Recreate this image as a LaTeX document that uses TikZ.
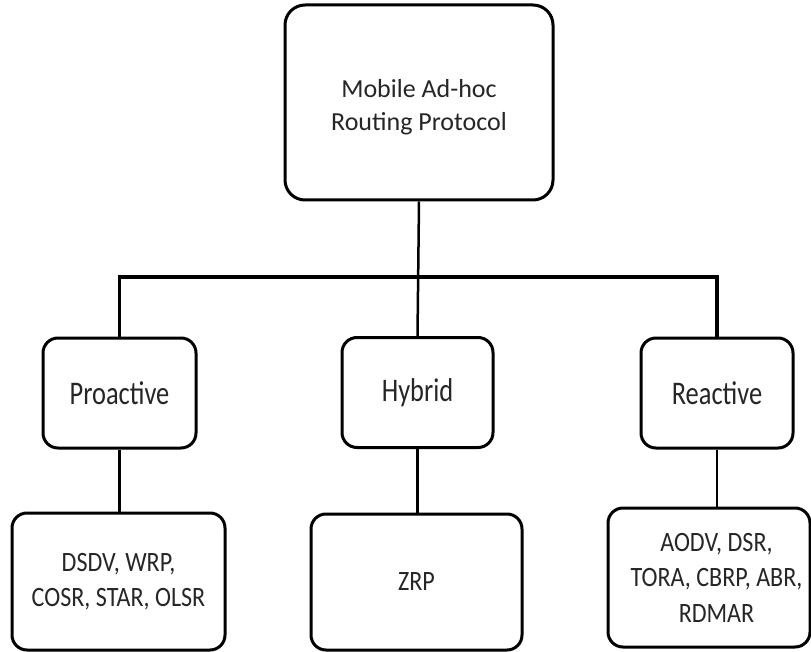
\documentclass[tikz,border=0pt]{standalone}
\usepackage{fontspec}
\usepackage{graphicx}
\setmainfont{Carlito}
\newcommand{\sqzb}[1]{\scalebox{0.86}[1]{#1}}
\newcommand{\sqzm}[1]{\scalebox{0.8}[1]{#1}}
\newcommand{\shr}{\hspace*{15pt}}
\tikzset{
  box/.style={draw=black, line width=3pt, fill=white, inner sep=0pt, align=center, text=black!85},
  topbox/.style={box, rounded corners=20pt, minimum width=268pt, minimum height=195pt, font=\fontsize{26}{33}\selectfont},
  midbox/.style={box, rounded corners=15pt, minimum height=110pt, font=\fontsize{33}{40}\selectfont},
  listbox/.style={box, rounded corners=15pt, font=\fontsize{28}{35.5}\selectfont},
  conn/.style={draw=black, line width=2.5pt},
}
\begin{document}
\begin{tikzpicture}[x=1pt,y=-1pt]
\useasboundingbox (0,0) rectangle (811,652);
\node[topbox] (top) at (419,102.5) {\\[-6pt]Mobile Ad-hoc\\Routing Protocol};
\node[midbox, minimum width=153pt] (pro) at (119.5,393) {\sqzm{Proactive}};
\node[midbox, minimum width=151pt] (hyb) at (417.5,392.5) {\sqzm{Hybrid}};
\node[midbox, minimum width=152pt] (rea) at (717,393) {\sqzm{Reactive}};
\node[listbox, minimum width=213pt, minimum height=137pt] (prolist) at (118.5,581.5) {\sqzb{DSDV, WRP,}\\\sqzb{COSR, STAR, OLSR}};
\node[listbox, minimum width=211pt, minimum height=136pt] (hyblist) at (416.5,582) {\sqzb{ZRP}};
\node[listbox, minimum width=202pt, minimum height=139pt] (realist) at (709,577.5) {\shr\sqzb{AODV, DSR,}\\\shr\sqzb{TORA, CBRP, ABR,}\\\shr\sqzb{RDMAR}};
\coordinate (bar) at (418,277);
\draw[conn] (top.south) -- (hyb.north);
\draw[conn, line width=3.5pt] (pro.north) |- (bar) -| (rea.north);
\draw[conn] (pro.south) -- (pro.south |- prolist.north);
\draw[conn] (hyb.south) -- (hyb.south |- hyblist.north);
\draw[conn] (rea.south) -- (rea.south |- realist.north);
\end{tikzpicture}
\end{document}
